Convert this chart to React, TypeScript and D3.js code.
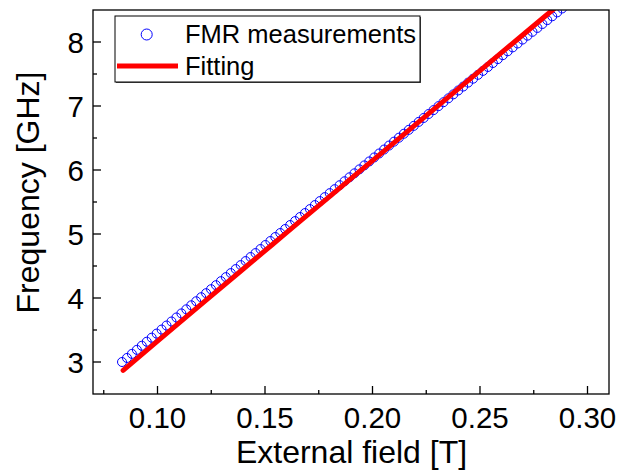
import React from "react";
import * as d3 from "d3";

// Measured FMR data (field in T, frequency in GHz)
const fieldT = [
  0.0835, 0.0858, 0.0881, 0.0904, 0.0927, 0.095, 0.0973, 0.0996, 0.1019, 0.1042,
  0.1065, 0.1088, 0.1111, 0.1134, 0.1157, 0.118, 0.1203, 0.1226, 0.1249, 0.1272,
  0.1295, 0.1318, 0.1341, 0.1364, 0.1387, 0.141, 0.1433, 0.1456, 0.1479, 0.1502,
  0.1525, 0.1548, 0.1571, 0.1594, 0.1617, 0.164, 0.1663, 0.1686, 0.1709, 0.1732,
  0.1755, 0.1778, 0.1801, 0.1824, 0.1847, 0.187, 0.1893, 0.1916, 0.1939, 0.1962,
  0.1985, 0.2008, 0.2031, 0.2054, 0.2077, 0.21, 0.2123, 0.2146, 0.2169, 0.2192,
  0.2215, 0.2238, 0.2261, 0.2284, 0.2307, 0.233, 0.2353, 0.2376, 0.2399, 0.2422,
  0.2445, 0.2468, 0.2491, 0.2514, 0.2537, 0.256, 0.2583, 0.2606, 0.2629, 0.2652,
  0.2675, 0.2698, 0.2721, 0.2744, 0.2767, 0.279, 0.2813, 0.2836, 0.2859, 0.2882,
];
const freqGHz = [
  3.0, 3.063, 3.127, 3.19, 3.254, 3.317, 3.38, 3.444, 3.507, 3.57,
  3.633, 3.696, 3.759, 3.823, 3.886, 3.949, 4.012, 4.075, 4.137, 4.2,
  4.263, 4.326, 4.389, 4.452, 4.514, 4.577, 4.64, 4.702, 4.765, 4.828,
  4.89, 4.953, 5.015, 5.078, 5.14, 5.202, 5.265, 5.327, 5.389, 5.452,
  5.514, 5.576, 5.638, 5.7, 5.762, 5.824, 5.886, 5.948, 6.01, 6.072,
  6.134, 6.196, 6.258, 6.32, 6.382, 6.443, 6.505, 6.567, 6.628, 6.69,
  6.752, 6.813, 6.875, 6.936, 6.998, 7.059, 7.12, 7.182, 7.243, 7.304,
  7.366, 7.427, 7.488, 7.549, 7.61, 7.672, 7.733, 7.794, 7.855, 7.916,
  7.977, 8.038, 8.099, 8.159, 8.22, 8.281, 8.342, 8.402, 8.463, 8.524,
];

// Fitted curve
const fitField = [0.084, 0.1, 0.12, 0.14, 0.16, 0.18, 0.2, 0.22, 0.24, 0.26, 0.28, 0.29];
const fitFreq = [2.869, 3.325, 3.892, 4.457, 5.021, 5.585, 6.147, 6.709, 7.271, 7.833, 8.394, 8.675];

const xMajorTicks = [0.1, 0.15, 0.2, 0.25, 0.3];
const xMinorTicks = [0.075, 0.125, 0.175, 0.225, 0.275];
const yMajorTicks = [3, 4, 5, 6, 7, 8];
const yMinorTicks = [3.5, 4.5, 5.5, 6.5, 7.5];

const legendLabels = ["FMR measurements", "Fitting"];

const W = 623;
const H = 476;
const L = 93, R = 609, T = 10, B = 394;
const FONT = "'Liberation Sans', Arial, Helvetica, sans-serif";

export default function App() {
  const x = d3.scaleLinear().domain([0.07, 0.31]).range([L, R]);
  const y = d3.scaleLinear().domain([2.5, 8.5]).range([B, T]);
  const line = d3
    .line<number>()
    .x((_, i) => x(fitField[i]))
    .y((_, i) => y(fitFreq[i]))
    .curve(d3.curveMonotoneX);

  return (
    <svg width={W} height={H} style={{ position: "absolute", left: 0, top: 0, background: "#fff" }}>
      <defs>
        <clipPath id="plotclip">
          <rect x={L} y={T} width={R - L} height={B - T} />
        </clipPath>
      </defs>
      <rect x={0} y={0} width={W} height={H} fill="#fff" />
      <g clipPath="url(#plotclip)">
        {fieldT.map((f, i) => (
          <circle key={i} cx={x(f)} cy={y(freqGHz[i])} r={4.5} fill="none" stroke="#0000ff" strokeWidth={1} />
        ))}
        <path d={line(fitFreq) || ""} fill="none" stroke="#ff0000" strokeWidth={5} strokeLinecap="round" />
      </g>
      {/* frame */}
      <rect x={L} y={T} width={R - L} height={B - T} fill="none" stroke="#000" strokeWidth={1.3} />
      {/* x ticks */}
      {xMajorTicks.map((t) => (
        <g key={"xm" + t}>
          <line x1={x(t)} x2={x(t)} y1={B} y2={B - 8} stroke="#000" strokeWidth={1.3} />
          <text x={x(t)} y={428} textAnchor="middle" fontFamily={FONT} fontSize={29.5} fill="#000">
            {t.toFixed(2)}
          </text>
        </g>
      ))}
      {xMinorTicks.map((t) => (
        <line key={"xn" + t} x1={x(t)} x2={x(t)} y1={B} y2={B - 4} stroke="#000" strokeWidth={1.3} />
      ))}
      {/* y ticks */}
      {yMajorTicks.map((t) => (
        <g key={"ym" + t}>
          <line x1={L} x2={L + 8} y1={y(t)} y2={y(t)} stroke="#000" strokeWidth={1.3} />
          <text x={84} y={y(t)} dy="0.36em" textAnchor="end" fontFamily={FONT} fontSize={29.5} fill="#000">
            {t}
          </text>
        </g>
      ))}
      {yMinorTicks.map((t) => (
        <line key={"yn" + t} x1={L} x2={L + 4} y1={y(t)} y2={y(t)} stroke="#000" strokeWidth={1.3} />
      ))}
      {/* axis titles */}
      <text x={351.5} y={463} textAnchor="middle" fontFamily={FONT} fontSize={32} fill="#000">
        External field [T]
      </text>
      <text
        transform="translate(38.5,192.5) rotate(-90)"
        textAnchor="middle"
        fontFamily={FONT}
        fontSize={32}
        fill="#000"
      >
        Frequency [GHz]
      </text>
      {/* legend */}
      <rect x={116} y={17} width={305} height={66} fill="#555" />
      <rect x={115} y={16} width={305} height={66} fill="#fff" stroke="#000" strokeWidth={1} />
      <circle cx={146.7} cy={34.5} r={5.5} fill="none" stroke="#0000ff" strokeWidth={1} />
      <text x={185} y={42.7} fontFamily={FONT} fontSize={25.5} fill="#000">
        {legendLabels[0]}
      </text>
      <line x1={117} x2={178} y1={66} y2={66} stroke="#ff0000" strokeWidth={5} />
      <text x={185} y={75} fontFamily={FONT} fontSize={25.5} fill="#000">
        {legendLabels[1]}
      </text>
    </svg>
  );
}
